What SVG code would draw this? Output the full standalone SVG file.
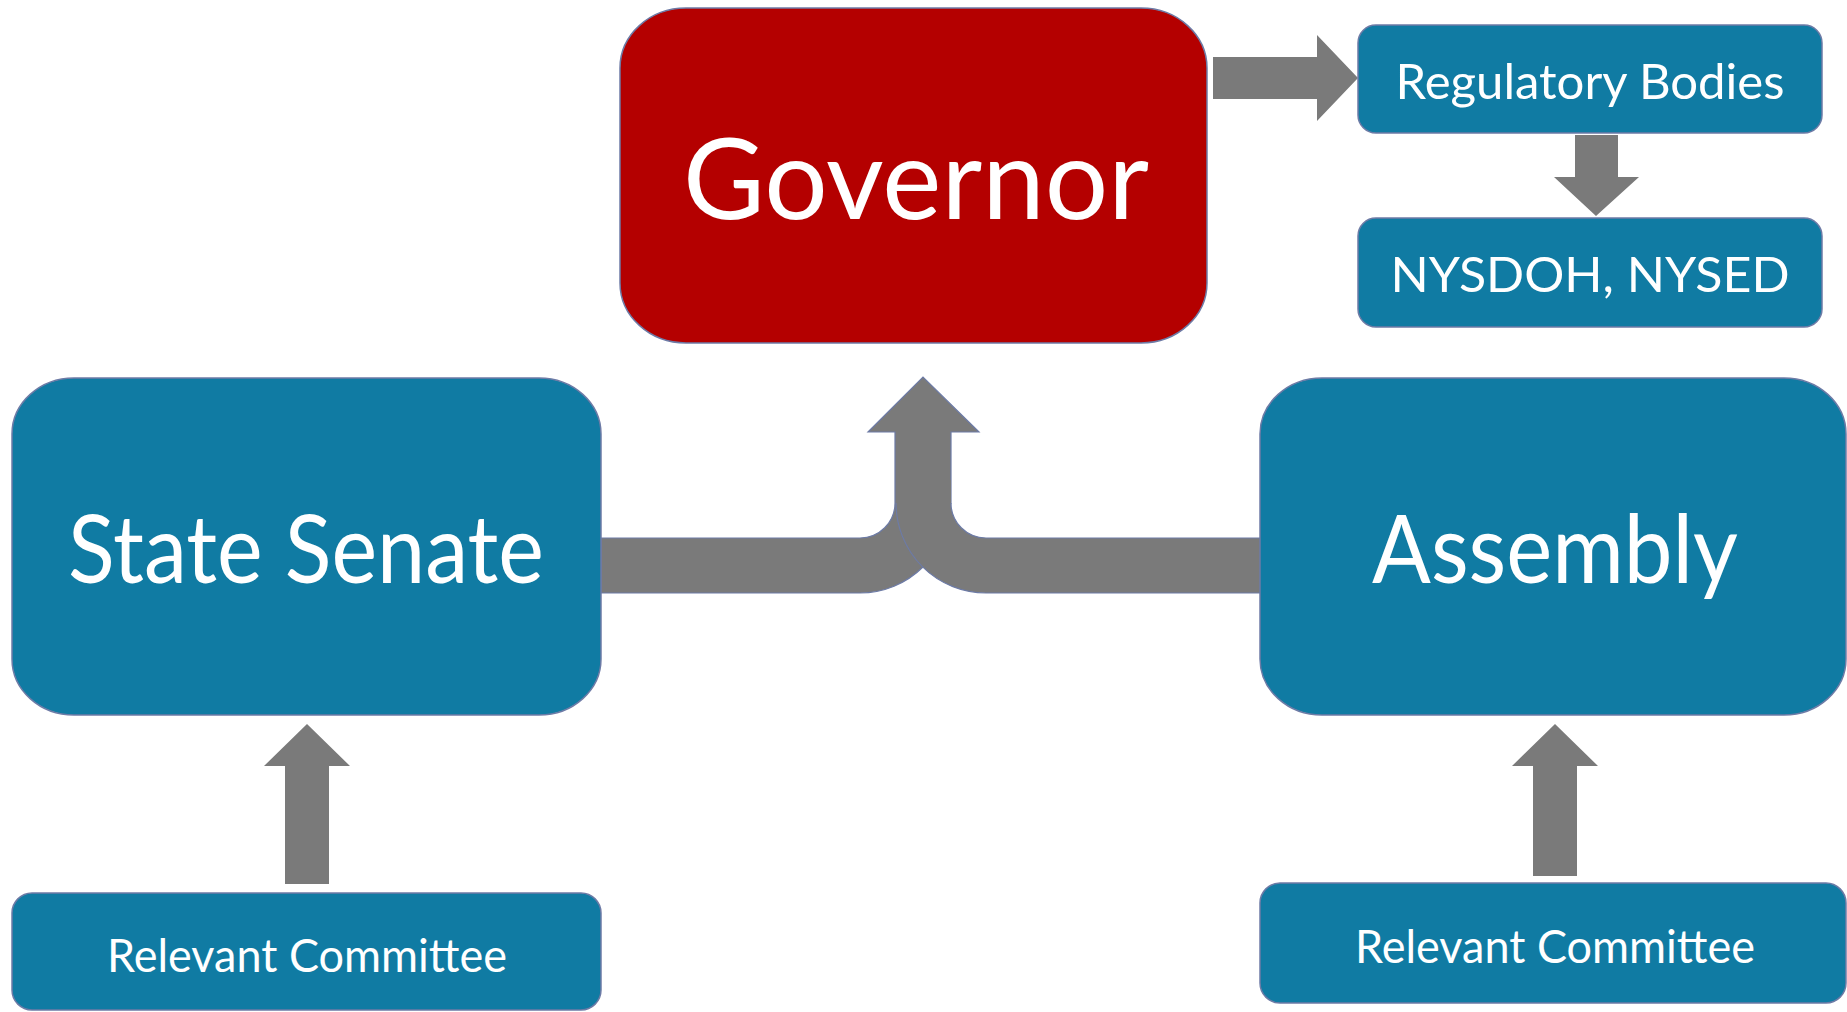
<svg xmlns="http://www.w3.org/2000/svg" width="1847" height="1012" viewBox="0 0 1847 1012">
<style>
.box{fill:#107ba3;stroke:#6d7ba6;stroke-width:1.5}
.gov{fill:#b40000;stroke:#6d7ba6;stroke-width:1.5}
.t{fill:#ffffff;font-family:Lato,"Open Sans","Liberation Sans",sans-serif;text-anchor:middle}
.arr{fill:#7a7a7a;stroke:none}
.arrs{fill:#7a7a7a;stroke:#6d7ba6;stroke-width:1.2}
.ol{fill:none;stroke:#6d7ba6;stroke-width:1.2}
</style>
<rect width="1847" height="1012" fill="#ffffff"/>
<g id="connectors">
<polygon class="arr" points="1213,57 1317,57 1317,35 1358,78 1317,121 1317,99 1213,99"/>
<polygon class="arr" points="1575,135 1618,135 1618,177 1639,177 1596,216 1554,177 1575,177"/>
<polygon class="arr" points="285,884 285,766 264,766 307,724 350,766 329,766 329,884"/>
<polygon class="arr" points="1533,876 1533,766 1512,766 1555,724 1598,766 1577,766 1577,876"/>
<path class="arrs" d="M601,538 H860 A35,35 0 0 0 895,503 V432 H868 L923,377 L979,432 H951 V503 L923,567 A90,90 0 0 1 860,593 H601 Z"/>
<path class="arr" d="M1260,593 H986 A90,90 0 0 1 896,503 V480 H951 V503 A35,35 0 0 0 986,538 H1260 Z"/>
<path class="ol" d="M1260,593 H986 A90,90 0 0 1 896,503 M951,503 A35,35 0 0 0 986,538 H1260"/>
</g>
<g id="governor">
<rect class="gov" x="620" y="8" width="587" height="335" rx="66" ry="60"/>
<text class="t" x="916" y="219" font-size="112" textLength="466" lengthAdjust="spacingAndGlyphs">Governor</text>
</g>
<g id="regulatory">
<rect class="box" x="1358" y="25" width="464" height="108" rx="18"/>
<text class="t" x="1590" y="99" font-size="48" textLength="389" lengthAdjust="spacingAndGlyphs">Regulatory Bodies</text>
</g>
<g id="nysdoh">
<rect class="box" x="1358" y="218" width="464" height="109" rx="18"/>
<text class="t" x="1590" y="292" font-size="48" textLength="399" lengthAdjust="spacingAndGlyphs">NYSDOH, NYSED</text>
</g>
<g id="senate">
<rect class="box" x="12" y="378" width="589" height="337" rx="62" ry="56"/>
<text class="t" x="306" y="583" font-size="95" textLength="476" lengthAdjust="spacingAndGlyphs">State Senate</text>
</g>
<g id="assembly">
<rect class="box" x="1260" y="378" width="586" height="337" rx="62" ry="56"/>
<text class="t" x="1555" y="583" font-size="95" textLength="366" lengthAdjust="spacingAndGlyphs">Assembly</text>
</g>
<g id="senate-committee">
<rect class="box" x="12" y="893" width="589" height="117" rx="20"/>
<text class="t" x="307" y="972" font-size="47" textLength="400" lengthAdjust="spacingAndGlyphs">Relevant Committee</text>
</g>
<g id="assembly-committee">
<rect class="box" x="1260" y="883" width="586" height="120" rx="20"/>
<text class="t" x="1555" y="963" font-size="47" textLength="400" lengthAdjust="spacingAndGlyphs">Relevant Committee</text>
</g>
</svg>
